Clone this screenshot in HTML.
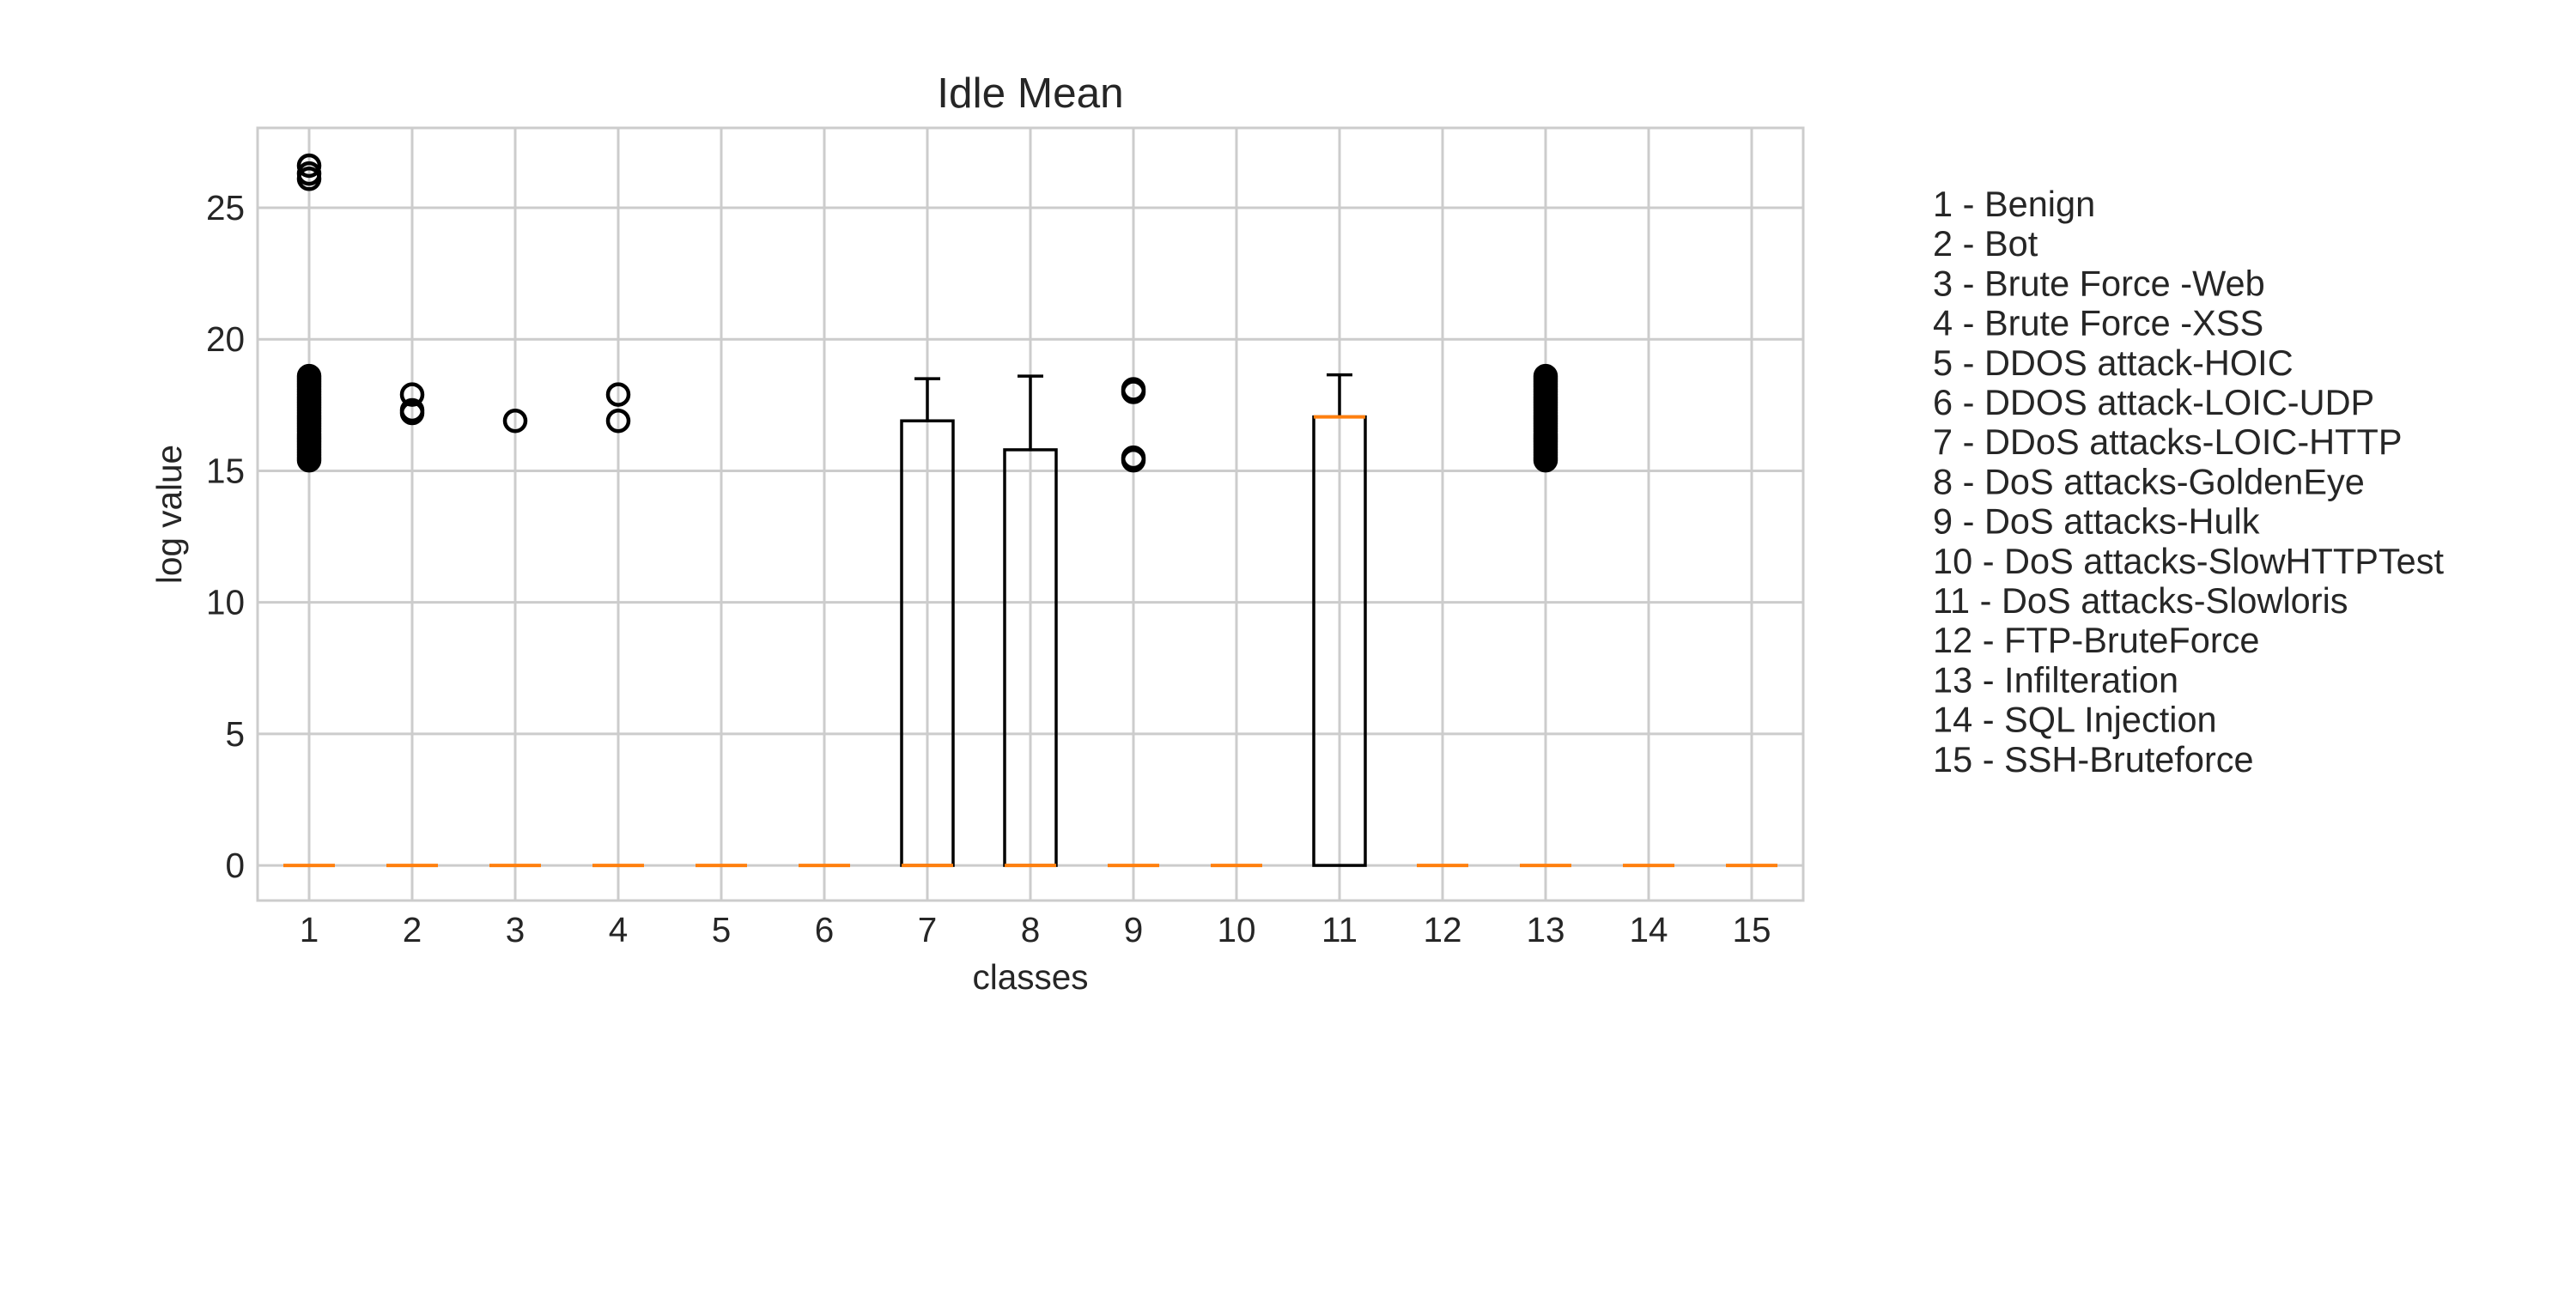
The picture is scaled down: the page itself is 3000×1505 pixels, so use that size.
<!DOCTYPE html>
<html><head><meta charset="utf-8"><style>
html,body{margin:0;padding:0;background:#fff;}
svg text{font-family:"Liberation Sans",sans-serif;fill:#262626;}
</style></head><body>
<svg id="chart" width="3000" height="1500" xmlns="http://www.w3.org/2000/svg">
<rect width="3000" height="1500" fill="#fff"/>
<g id="grid"></g>
<g id="boxes"></g>
<rect x="300" y="149" width="1800" height="900" fill="none" stroke="#cccccc" stroke-width="3"/>
<g id="ticks"></g>
<text x="1200" y="125" font-size="49.5" text-anchor="middle">Idle Mean</text>
<text x="1200" y="1152" font-size="40.5" text-anchor="middle">classes</text>
<text transform="translate(211,599) rotate(-90)" font-size="40.5" text-anchor="middle">log value</text>
<g id="legend"></g>
</svg>
<script>
const categories=[1,2,3,4,5,6,7,8,9,10,11,12,13,14,15];
const q1Values=[0,0,0,0,0,0,0,0,0,0,0,0,0,0,0];
const medianValues=[0,0,0,0,0,0,0,0,0,0,17.05,0,0,0,0];
const q3Values=[0,0,0,0,0,0,16.9,15.8,0,0,17.05,0,0,0,0];
const whiskerHigh=[0,0,0,0,0,0,18.5,18.6,0,0,18.65,0,0,0,0];
const outliers=[
 [15.4,15.5,15.6,15.7,15.8,15.9,16.0,16.1,16.2,16.3,16.4,16.5,16.6,16.7,16.8,16.9,17.0,17.1,17.2,17.3,17.4,17.5,17.6,17.7,17.8,17.9,18.0,18.1,18.2,18.3,18.4,18.5,18.6,26.1,26.3,26.6],
 [17.2,17.3,17.9],[16.9],[16.9,17.9],[],[],[],[],[15.4,15.5,18.0,18.1],[],[],[],
 [15.4,15.5,15.6,15.7,15.8,15.9,16.0,16.1,16.2,16.3,16.4,16.5,16.6,16.7,16.8,16.9,17.0,17.1,17.2,17.3,17.4,17.5,17.6,17.7,17.8,17.9,18.0,18.1,18.2,18.3,18.4,18.5,18.6],[],[]];
const yTicks=[0,5,10,15,20,25];
const legendLabels=["1 - Benign","2 - Bot","3 - Brute Force -Web","4 - Brute Force -XSS","5 - DDOS attack-HOIC","6 - DDOS attack-LOIC-UDP","7 - DDoS attacks-LOIC-HTTP","8 - DoS attacks-GoldenEye","9 - DoS attacks-Hulk","10 - DoS attacks-SlowHTTPTest","11 - DoS attacks-Slowloris","12 - FTP-BruteForce","13 - Infilteration","14 - SQL Injection","15 - SSH-Bruteforce"];

const NS="http://www.w3.org/2000/svg";
const X0=300,X1=2100,Y0=149,Y1=1049,XMIN=0.5,XMAX=15.5,YMIN=-1.335,YMAX=28.035;
function xs(v){return X0+(v-XMIN)/(XMAX-XMIN)*(X1-X0);}
function ys(v){return Y1-(v-YMIN)/(YMAX-YMIN)*(Y1-Y0);}
function mk(tag,attrs,parent){const e=document.createElementNS(NS,tag);for(const k in attrs)e.setAttribute(k,attrs[k]);parent.appendChild(e);return e;}
const grid=document.getElementById('grid'),boxes=document.getElementById('boxes'),ticks=document.getElementById('ticks'),legend=document.getElementById('legend');
categories.forEach((c,i)=>{
 const x=xs(c);
 const gl=mk('line',{x1:x,x2:x,y1:Y0,y2:Y1,stroke:'#cccccc','stroke-width':3},grid);
 
 
 const t=mk('text',{x:x,y:1097,'font-size':40.5,'text-anchor':'middle'},ticks);
 t.textContent=c;
 
 
});
yTicks.forEach(v=>{
 const y=ys(v);
 const gl=mk('line',{x1:X0,x2:X1,y1:y,y2:y,stroke:'#cccccc','stroke-width':3},grid);
 
 
 const t=mk('text',{x:285,y:y+14,'font-size':40.5,'text-anchor':'end'},ticks);
 t.textContent=v;
 
 
});
const hw=(xs(1.25)-xs(1)),cw=hw/2;
categories.forEach((c,i)=>{
 const x=xs(c);
 const g=mk('g',{},boxes);
 
 
 const yq1=ys(q1Values[i]),yq3=ys(q3Values[i]);
 if(whiskerHigh[i]>q3Values[i]){
  mk('line',{x1:x,x2:x,y1:yq3,y2:ys(whiskerHigh[i]),stroke:'#000','stroke-width':3.5},g);
  mk('line',{x1:x-cw,x2:x+cw,y1:ys(whiskerHigh[i]),y2:ys(whiskerHigh[i]),stroke:'#000','stroke-width':3.5},g);
 }
 mk('rect',{x:x-hw,y:yq3,width:2*hw,height:Math.max(0,yq1-yq3),fill:'none',stroke:'#000','stroke-width':3.5},g);
 mk('line',{x1:x-hw,x2:x+hw,y1:ys(medianValues[i]),y2:ys(medianValues[i]),stroke:'#ff7f0e','stroke-width':4},g);
 outliers[i].forEach(v=>{
  const o=mk('circle',{cx:x,cy:ys(v),r:12,fill:'none',stroke:'#000','stroke-width':4.5},g);
  
  
 });
});
legendLabels.forEach((s,i)=>{
 const t=mk('text',{x:2251,y:252+i*46.2,'font-size':41.5},legend);
 t.textContent=s;
 
 
});
</script>
</body></html>
